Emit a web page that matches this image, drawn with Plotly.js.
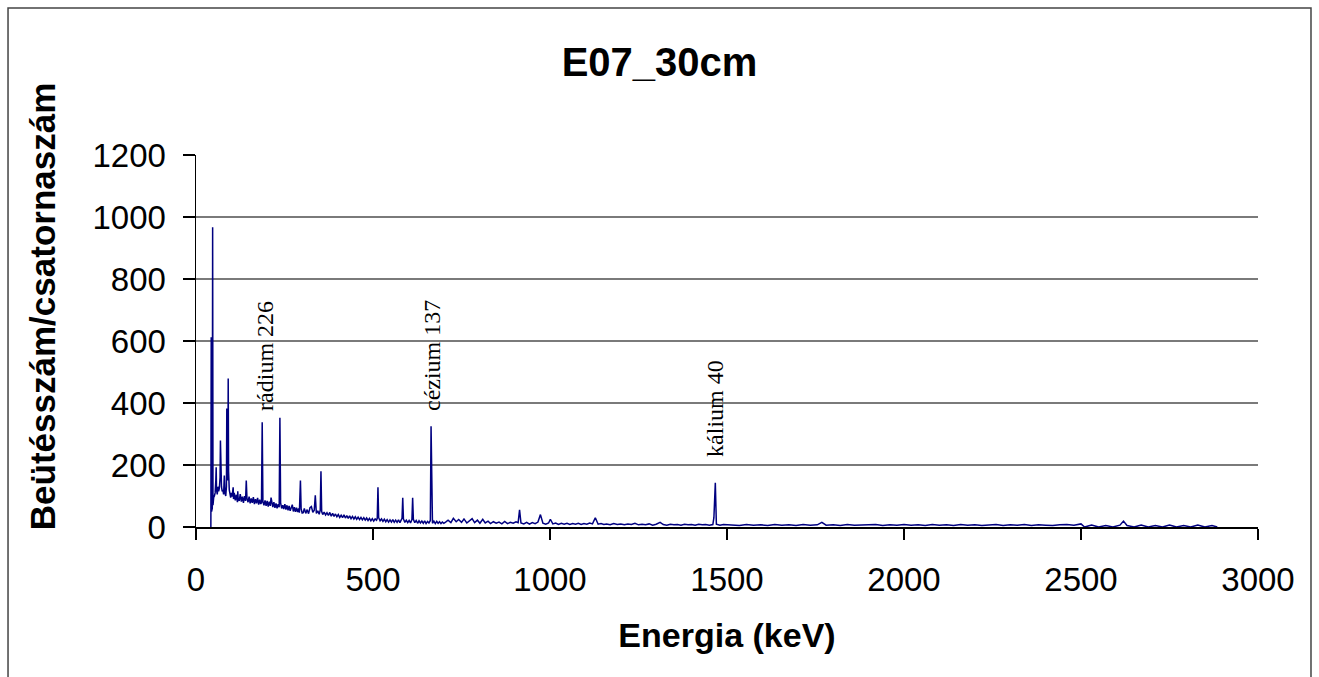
<!DOCTYPE html>
<html>
<head>
<meta charset="utf-8">
<script src="https://cdn.plot.ly/plotly-3.0.1.min.js"></script>
<style>html,body{margin:0;padding:0;background:#fff;}#chart{width:1319px;height:677px;}</style>
</head>
<body>
<div id="chart"></div>
<script>
// Energy (keV) and counts per channel
const energyA = [42,43,44,45,46,47,48,49,50,52,54,56,57,58,60,62,64,66,68,69,70,71,72,74,76,78,80,82,84,86,87,88,90,91,92,94,96,98,100];
const countsA = [0,612,50,55,60,967,70,85,95,100,110,150,193,120,105,130,115,125,160,279,140,205,130,115,120,105,166,110,100,130,382,200,150,479,180,120,105,95,110];

const energyB = [102,104,105,106,108,111,114,117,118,119,122,125,128,131,134,137,140,142,144,147,150,153,156,159,162,165,168,171,174,177,180,183,185,187,189,192,195,198,201,204,207,210,212,214,217,220,223,226,229,232,235,237,239,242,245,248,251,254,257,260,263,266,269,272,275,278,281,284,287,290,292,295,297,300];
const countsB = [98,118,128,90,110, 86,104,80,115,92, 84,106,82,98,78, 100,84,150,92,80, 98,76,92,78,96, 74,90,76,94,72, 88,74,79,338,82, 70,86,68,84,66, 82,68,95,78,64, 80,62,76,60,74, 64,352,78,60,70, 58,74,56,70,54, 68,52,66,72,50, 64,49,62,48,60, 46,150,58,45];

const energyC = [303,306,310,314,318,322,326,330,334,337,340,344,348,351,353,355,358,362,366,370,374,378,382,386,390,394,398,402,406,410,414,418,422,426,430,434,438,442,446,450,454,458,462,466,470,474,478,482,486,490,494,498,502,506,510,512,514,516,520,524,528,532,536,540,544,548,552,556,560,564,568,572,576,580,582,584,586,590,594,598,602,606,610,612,614,618,622,626,630,634,638,642,646,650,654,658,662,664,666,668,672,676,680,684,688,692,696,700];
const countsC = [46,60,44,56,43, 62,66,47,54,102, 44,52,41,55,180, 50,40,48,39,46, 37,47,35,44,34, 42,33,40,31,38, 30,39,29,37,28, 36,27,34,26,33, 25,32,24,31,23, 30,22,29,21,28, 20,27,19,26,22, 28,128,30,20,26, 18,25,17,24,16, 23,16,24,15,22, 15,23,14,21,28, 94,26,15,22,14, 21,13,24,94,25, 14,21,12,20,13, 19,12,20,11,18, 13,21,325,28,12, 19,11,18,12,17, 11,16,12];

const energyD = [705,712,720,727,735,742,750,757,765,772,780,787,795,802,810,817,825,832,840,848,856,864,872,880,888,896,904,910,914,918,926,934,942,950,958,966,973,980,988,996,1001,1008,1016,1024,1032,1040,1048,1056,1064,1072,1080,1088,1096,1104,1112,1120,1128,1136,1144,1152,1160,1170,1180,1190,1200,1210,1220,1230,1240,1250,1260,1270,1280,1290,1300,1311,1320,1330,1340,1350,1360,1370,1380,1390,1400,1410,1420,1430,1440,1450,1460,1463,1465,1467,1470,1480,1490,1500];
const countsD = [16,22,14,28,17, 24,15,26,13,21, 27,14,22,12,25, 13,19,11,17,12, 16,10,18,11,15, 12,17,14,55,13, 10,15,9,14,11, 16,40,12,9,13, 25,10,13,8,12, 9,12,8,11,9, 12,8,11,9,13, 10,30,9,11,8, 10,7,11,8,10, 7,10,8,12,7, 9,7,10,6,9, 15,8,6,9,7, 8,6,9,7,8, 6,9,7,8,6, 8,30,107,143,9, 6,8,7];

const energyE = [1515,1535,1555,1575,1595,1615,1635,1655,1675,1695,1715,1735,1755,1768,1780,1800,1820,1840,1860,1880,1900,1920,1940,1960,1980,2000,2020,2040,2060,2080,2100,2120,2140,2160,2180,2200,2220,2240,2260,2280,2300,2320,2340,2360,2380,2400,2420,2440,2460,2480,2500,2510,2530,2550,2570,2590,2610,2620,2630,2650,2670,2690,2710,2730,2750,2770,2790,2810,2830,2850,2870,2885];
const countsE = [7,5,8,6,7, 5,8,6,7,5, 8,6,7,15,6, 7,5,8,6,7, 6,8,5,7,6, 8,6,7,5,8, 6,7,5,8,6, 7,5,6,8,5, 7,6,8,5,7, 6,5,7,8,6, 10,0,6,0,5, 0,6,19,5,0, 6,0,5,0,6, 0,5,0,6,0, 5,0];

// Peak labels
const peakNames = ['rádium 226', 'cézium 137', 'kálium 40'];
const peakLabelX = [195, 667, 1466];
const peakLabelY = [552, 552, 384];

const yTicks = [0,200,400,600,800,1000,1200];
const xTicks = [0,500,1000,1500,2000,2500,3000];

const energy = [].concat(energyA, energyB, energyC, energyD, energyE);
const counts = [].concat(countsA, countsB, countsC, countsD, countsE);

const sans = 'Arial, "Liberation Sans", sans-serif';
const serif = '"Times New Roman", "Liberation Serif", serif';

const trace = {
  x: energy, y: counts, type: 'scatter', mode: 'lines',
  line: {color: '#000080', width: 1.5},
  hoverinfo: 'x+y', showlegend: false
};

const annotations = peakNames.map((t, i) => ({
  x: peakLabelX[i], y: peakLabelY[i], xref: 'x', yref: 'y',
  text: t, textangle: -90, showarrow: false,
  xanchor: 'center', yanchor: 'middle',
  font: {family: serif, size: 24, color: '#000'}
}));
annotations.push({
  x: -0.145, y: 0.591, xref: 'paper', yref: 'paper',
  text: 'Beütésszám/csatornaszám', textangle: -90, showarrow: false,
  xanchor: 'center', yanchor: 'middle',
  font: {family: sans, size: 35, color: '#000', weight: 'bold'}
});

const layout = {
  width: 1319, height: 677,
  margin: {l: 196, r: 61, t: 155, b: 150, pad: 0},
  paper_bgcolor: '#fff', plot_bgcolor: '#fff',
  title: {text: 'E07_30cm', x: 0.5, xref: 'container', y: 1 - 62/677, yref: 'container',
    xanchor: 'center', yanchor: 'middle',
    font: {family: sans, size: 40, color: '#000', weight: 'bold'}},
  xaxis: {
    range: [0, 3000], tickvals: xTicks, ticktext: xTicks.map(String),
    showgrid: false, zeroline: false, showline: true, linecolor: '#000', linewidth: 1.5,
    ticks: 'outside', ticklen: 11, tickwidth: 1.5, tickcolor: '#000',
    ticklabelstandoff: 12,
    tickfont: {family: sans, size: 33, color: '#000'},
    title: {text: 'Energia (keV)', standoff: 26, font: {family: sans, size: 34, color: '#000', weight: 'bold'}},
    automargin: false, fixedrange: true
  },
  yaxis: {
    range: [0, 1200], tickvals: yTicks, ticktext: yTicks.map(String),
    showgrid: true, gridcolor: '#7a7a7a', gridwidth: 1.5,
    zeroline: false, showline: true, linecolor: '#000', linewidth: 1.5,
    ticks: 'outside', ticklen: 12, tickwidth: 1.5, tickcolor: '#000',
    ticklabelstandoff: 10,
    tickfont: {family: sans, size: 33, color: '#000'},
    automargin: false, fixedrange: true
  },
  annotations: annotations,
  shapes: [{
    type: 'rect', xref: 'paper', yref: 'paper',
    x0: -0.177, x1: 1.0499, y0: -0.43, y1: 1.395,
    line: {color: '#444', width: 1.5}, fillcolor: 'rgba(0,0,0,0)', layer: 'above'
  }]
};

Plotly.newPlot('chart', [trace], layout, {displayModeBar: false, staticPlot: true});
</script>
</body>
</html>
